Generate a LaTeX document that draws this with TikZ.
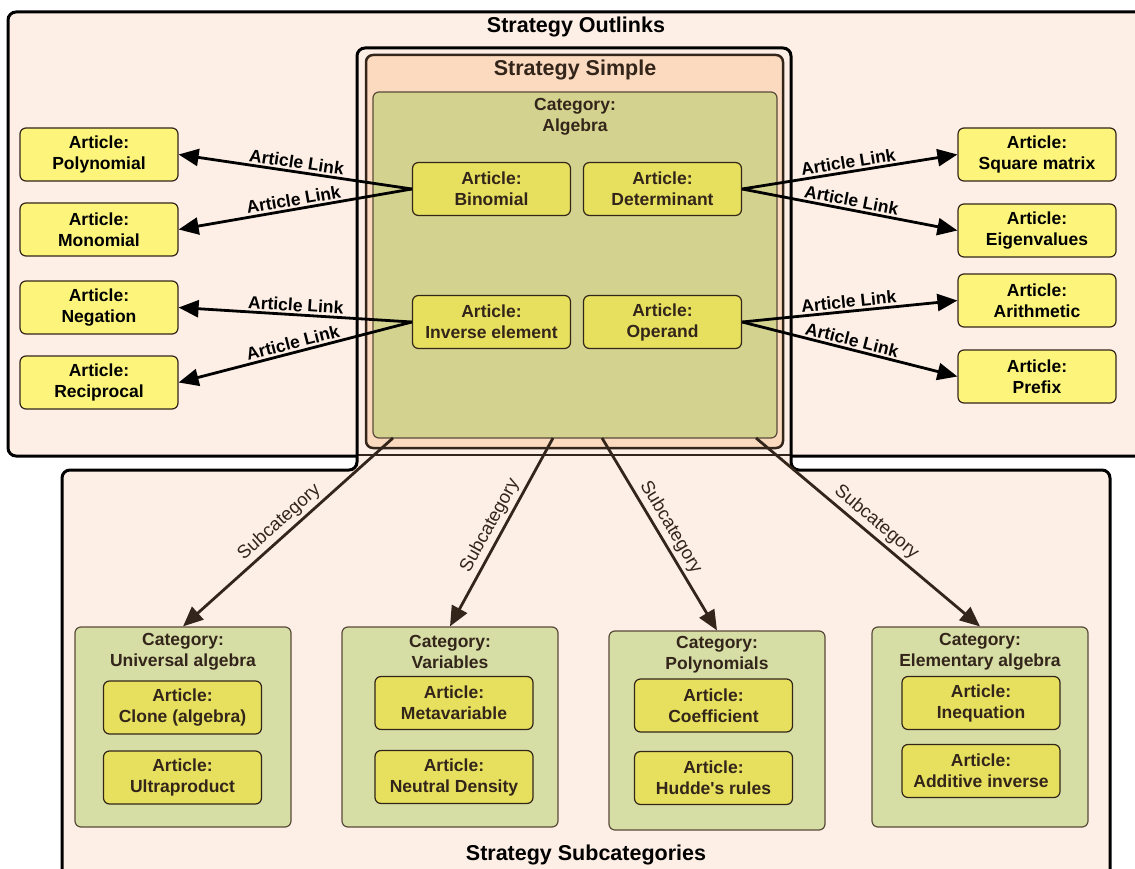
\documentclass[tikz,border=0pt]{standalone}
\usepackage{fontspec}
\setmainfont{Liberation Sans}
\usetikzlibrary{arrows.meta}
\definecolor{outerbg}{HTML}{FDEFE5}
\definecolor{simplefill}{HTML}{FCDAC0}
\definecolor{algfill}{HTML}{D4D28F}
\definecolor{subfill}{HTML}{D6DEA6}
\definecolor{artfill}{HTML}{FDF57B}
\definecolor{innerfill}{HTML}{E6E05E}
\definecolor{darkbrown}{HTML}{33251A}
\definecolor{edgebrown}{HTML}{5A4A3A}
\tikzset{
  article/.style={draw=darkbrown, line width=1.2pt, rounded corners=6pt, fill=artfill,
    minimum width=158pt, minimum height=53pt, inner sep=0pt, align=center,
    font=\fontsize{17.5}{21}\selectfont\bfseries},
  innerarticle/.style={article, fill=innerfill, text=darkbrown},
  catbox/.style={draw=edgebrown, line width=1.2pt, rounded corners=6pt, inner sep=0pt},
  cattext/.style={align=center, text=darkbrown, inner sep=0pt,
    font=\fontsize{17.5}{21}\selectfont\bfseries},
  titletext/.style={inner sep=0pt, font=\fontsize{21.5}{25}\selectfont\bfseries},
  link/.style={line width=2.8pt, -{Triangle[length=20pt,width=17pt]}},
  sublink/.style={link, draw=darkbrown},
  linklabel/.style={sloped, above, inner sep=2pt, font=\fontsize{17.5}{21}\selectfont\bfseries},
  sublabel/.style={sloped, above, inner sep=3pt, text=darkbrown, font=\fontsize{18.5}{21}\selectfont}
}
\begin{document}
\begin{tikzpicture}[x=1pt, y=-1pt]
\clip (0,0) rectangle (1135,869);
\fill[white] (0,0) rectangle (1135,869);
% outlinks frame
\draw[fill=outerbg, line width=3pt, rounded corners=8pt] (8,12) rectangle (1150,456);
\node[titletext] (outtitle) at (576,27) {Strategy Outlinks};
% subcategories frame, with its top part round strategy simple
\fill[outerbg, rounded corners=8pt] (62,890) -- (62,470) -- (357,470) -- (357,48) -- (791,48)
  -- (791,470) -- (1110,470) -- (1110,890) -- cycle;
\draw[darkbrown, line width=1.2pt] (357,455) -- (791,455);
\draw[line width=3pt, rounded corners=8pt] (62,890) -- (62,470) -- (357,470) -- (357,48) -- (791,48)
  -- (791,470) -- (1110,470) -- (1110,890);
\node[titletext] (subtitle) at (586,855) {Strategy Subcategories};
% strategy simple
\node[draw=darkbrown, line width=2.5pt, rounded corners=7pt, fill=simplefill,
  minimum width=417pt, minimum height=393pt, inner sep=0pt] (simple) at (574.5,251.5) {};
\node[titletext, text=darkbrown] (simpletitle) at (575,70) {Strategy Simple};
\node[catbox, fill=algfill, minimum width=404pt, minimum height=346pt] (algebra) at (575,265) {};
\node[cattext] (algtext) at (575,117) {Category:\\Algebra};
\node[innerarticle] (binomial) at (491.5,189) {Article:\\Binomial};
\node[innerarticle] (determinant) at (662.5,189) {Article:\\Determinant};
\node[innerarticle] (inverse) at (491.5,322) {Article:\\Inverse element};
\node[innerarticle] (operand) at (662.5,322) {Article:\\Operand};
% outlinked articles
\node[article] (polynomial) at (99,154.5) {Article:\\Polynomial};
\node[article] (monomial) at (99,229.5) {Article:\\Monomial};
\node[article] (negation) at (99,307.5) {Article:\\Negation};
\node[article] (reciprocal) at (99,382.5) {Article:\\Reciprocal};
\node[article] (square) at (1037,154.5) {Article:\\Square matrix};
\node[article] (eigen) at (1037,230.5) {Article:\\Eigenvalues};
\node[article] (arith) at (1037,300.5) {Article:\\Arithmetic};
\node[article] (prefix) at (1037,376.5) {Article:\\Prefix};
\draw[link] (binomial.west) -- node[linklabel] {Article Link} (polynomial.east);
\draw[link] (binomial.west) -- node[linklabel] {Article Link} (monomial.east);
\draw[link] (inverse.west) -- node[linklabel] {Article Link} (negation.east);
\draw[link] (inverse.west) -- node[linklabel] {Article Link} (reciprocal.east);
\draw[link] (determinant.east) -- node[linklabel] {Article Link} (square.west);
\draw[link] (determinant.east) -- node[linklabel] {Article Link} (eigen.west);
\draw[link] (operand.east) -- node[linklabel] {Article Link} (arith.west);
\draw[link] (operand.east) -- node[linklabel] {Article Link} (prefix.west);
% subcategories
\node[catbox, fill=subfill, minimum width=216pt, minimum height=200pt] (universal) at (183,727) {};
\node[cattext] (unitext) at (183,651.5) {Category:\\Universal algebra};
\node[innerarticle] (clone) at (182.5,707.5) {Article:\\Clone (algebra)};
\node[innerarticle] (ultra) at (182.5,777.5) {Article:\\Ultraproduct};
\node[catbox, fill=subfill, minimum width=216pt, minimum height=200pt] (variables) at (450,727) {};
\node[cattext] (vartext) at (450,651.5) {Category:\\Variables};
\node[innerarticle] (meta) at (454,703) {Article:\\Metavariable};
\node[innerarticle] (neutral) at (454,777) {Article:\\Neutral Density};
\node[catbox, fill=subfill, minimum width=216pt, minimum height=199pt] (polys) at (717,730.5) {};
\node[cattext] (polytext) at (717,654.5) {Category:\\Polynomials};
\node[innerarticle] (coeff) at (713.5,705.5) {Article:\\Coefficient};
\node[innerarticle] (hudde) at (713.5,778) {Article:\\Hudde\textquotesingle s rules};
\node[catbox, fill=subfill, minimum width=216pt, minimum height=200pt] (elementary) at (980,727) {};
\node[cattext] (eletext) at (980,651.5) {Category:\\Elementary algebra};
\node[innerarticle] (ineq) at (981,703) {Article:\\Inequation};
\node[innerarticle] (additive) at (981,771) {Article:\\Additive inverse};
\coordinate (s1) at (393,438);
\coordinate (s2) at (553,438);
\coordinate (s3) at (602,438);
\coordinate (s4) at (756,438);
\draw[sublink] (s1) -- node[sublabel] {Subcategory} (universal.north);
\draw[sublink] (s2) -- node[sublabel] {Subcategory} (variables.north);
\draw[sublink] (s3) -- node[sublabel] {Subcategory} (polys.north);
\draw[sublink] (s4) -- node[sublabel] {Subcategory} (elementary.north);
\end{tikzpicture}
\end{document}
